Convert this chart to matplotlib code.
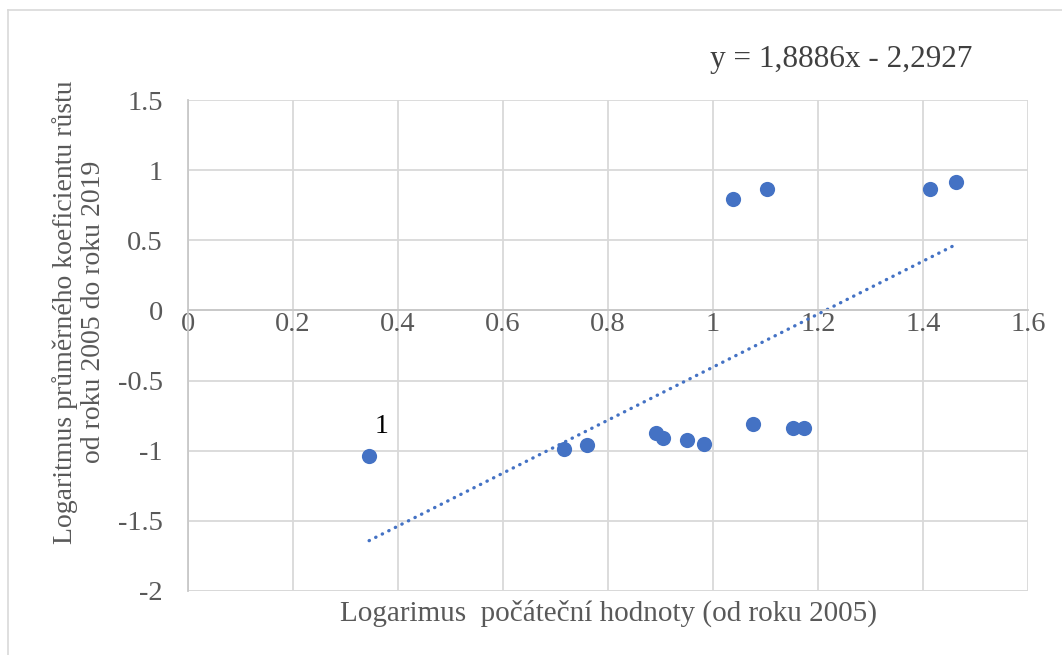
"""Scatter of log initial value vs. log average growth coefficient, with
Excel-style linear trendline."""

import matplotlib
matplotlib.use("Agg")
import matplotlib.pyplot as plt
from matplotlib.lines import Line2D
import numpy as np

plt.rcParams["font.family"] = ["Liberation Serif", "DejaVu Serif"]

# data
log_start = [0.345, 0.716, 0.760, 0.891, 0.905, 0.950, 0.983,
             1.076, 1.152, 1.173, 1.038, 1.103, 1.413, 1.463]
log_growth = [-1.036, -0.986, -0.957, -0.871, -0.907, -0.921, -0.950,
              -0.807, -0.836, -0.836, 0.793, 0.864, 0.864, 0.914]
slope, intercept = 1.8886, -2.2927
eq_text = "y = 1,8886x - 2,2927"

x_ticks = [0, 0.2, 0.4, 0.6, 0.8, 1.0, 1.2, 1.4, 1.6]
x_labels = ["0", "0.2", "0.4", "0.6", "0.8", "1", "1.2", "1.4", "1.6"]
y_ticks = [1.5, 1, 0.5, 0, -0.5, -1, -1.5, -2]
y_labels = ["1.5", "1", "0.5", "0", "-0.5", "-1", "-1.5", "-2"]

BLUE = "#4472C4"
GRID = "#d9d9d9"
TXT = "#595959"

fig = plt.figure(figsize=(10.62, 6.55), dpi=100)
ax = fig.add_axes([188 / 1062, 1 - 591 / 655, 840 / 1062, 491 / 655])

ax.scatter(log_start, log_growth, s=120, color=BLUE, zorder=3, linewidths=0)

xs = np.array([min(log_start), max(log_start)])
ax.plot(xs, slope * xs + intercept, color=BLUE, linewidth=2.4,
        linestyle=(0, (0.1, 2.1)), dash_capstyle="round", zorder=2)

ax.annotate("1", (log_start[0], log_growth[0]), xytext=(9, 21),
            textcoords="offset points", fontsize=20, ha="center", va="center")

ax.set_xlim(0, 1.6)
ax.set_ylim(-2, 1.5)
ax.set_xticks(x_ticks)
ax.set_xticklabels(x_labels)
ax.set_yticks(y_ticks)
ax.set_yticklabels(y_labels)
ax.tick_params(length=0, labelsize=20.5, labelcolor=TXT)
ax.tick_params(axis="y", pad=18)
ax.tick_params(axis="x", pad=1)
ax.grid(color=GRID, linewidth=1.3)
ax.set_axisbelow(True)

for s in ("top", "right"):
    ax.spines[s].set_visible(False)
ax.spines["bottom"].set_position(("data", 0))
ax.spines["bottom"].set_color("#c8c8c8")
ax.spines["left"].set_color("#c8c8c8")
ax.spines["bottom"].set_linewidth(1.3)
ax.spines["left"].set_linewidth(1.3)

# bottom gridline at -2 stays visible as in the original
ax.axhline(-2, color=GRID, linewidth=1.3, zorder=0)

fig.text(608 / 1062, 1 - 613 / 655, "Logarimus  počáteční hodnoty (od roku 2005)",
         fontsize=21, color=TXT, ha="center", va="center")
fig.text(79 / 1062, 1 - 312 / 655,
         "Logaritmus průměrného koeficientu růstu\nod roku 2005 do roku 2019",
         fontsize=20, color=TXT, ha="center", va="center", rotation=90,
         linespacing=1.2)
fig.text(841 / 1062, 1 - 60 / 655, eq_text, fontsize=22.5, color="#404040",
         ha="center", va="center")

# chart area border (left and top edges visible in the crop)
fig.add_artist(Line2D([8 / 1062, 8 / 1062], [0, 1 - 10 / 655],
                      transform=fig.transFigure, color=GRID, linewidth=1.2))
fig.add_artist(Line2D([8 / 1062, 1], [1 - 10 / 655, 1 - 10 / 655],
                      transform=fig.transFigure, color=GRID, linewidth=1.2))

fig.savefig("out.png", dpi=100)
